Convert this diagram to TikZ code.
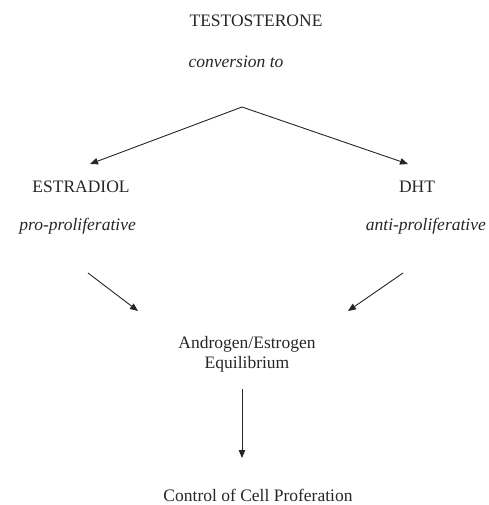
\documentclass[tikz,border=0pt]{standalone}
\usepackage{fontspec}
\setmainfont{Liberation Serif}
\usetikzlibrary{arrows.meta}
\begin{document}
\begin{tikzpicture}[x=1pt,y=-1pt,
  lbl/.style={anchor=base,inner sep=0pt,font=\fontsize{17.5}{20}\selectfont,text=black!85},
  ilbl/.style={lbl,font=\fontsize{17.5}{20}\selectfont\itshape},
  arr/.style={line width=0.9pt,draw=black!85,-{Triangle[length=8pt,width=6.5pt]}}]
\useasboundingbox (0,0) rectangle (488,505);
\node[lbl] (testo) at (256,27) {TESTOSTERONE};
\node[ilbl] (conv) at (236,68) {conversion to};
\node[lbl] (estr) at (81,192) {ESTRADIOL};
\node[lbl] (dht) at (417,192) {DHT};
\node[ilbl,anchor=base east] (pro) at (136,230) {pro-proliferative};
\node[ilbl,anchor=base east] (anti) at (486,230) {anti-proliferative};
\node[lbl,align=center,anchor=base] (equi) at (247,368) {Androgen/Estrogen\\Equilibrium};
\node[lbl] (ctrl) at (258,501) {Control of Cell Proferation};
\coordinate (apex) at (242,107);
\coordinate (estrtop) at (90,164);
\coordinate (dhttop) at (408,164);
\coordinate (probot) at (88,273);
\coordinate (antibot) at (403,273);
\coordinate (equil) at (138,311);
\coordinate (equir) at (348,311);
\coordinate (equibot) at (242,389);
\coordinate (ctrltop) at (242,458);
\draw[arr] (apex) -- (estrtop);
\draw[arr] (apex) -- (dhttop);
\draw[arr] (probot) -- (equil);
\draw[arr] (antibot) -- (equir);
\draw[arr] (equibot) -- (ctrltop);
\end{tikzpicture}
\end{document}
